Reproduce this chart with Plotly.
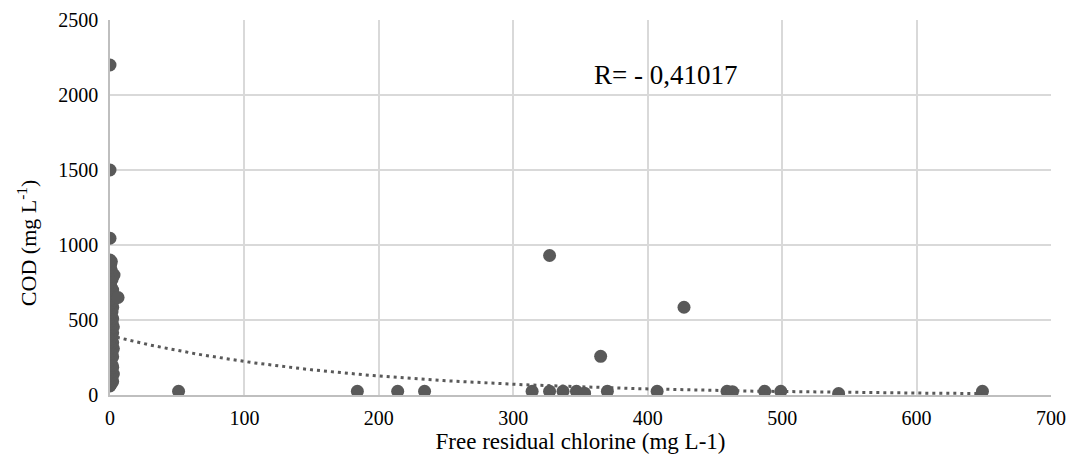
import numpy as np
import plotly.graph_objects as go

# --- data ---
# cluster of samples with (almost) no free residual chlorine
cluster_x = [0, 1, 2, 0.5, 1.5, 0, 2.5, 1, 0, 2, 1.5, 0.5, 0, 1, 2, 0, 1.5, 0.5, 2.5, 1,
             0, 2, 1, 0.5, 1.5, 0, 2, 1, 0.5, 2.5, 0, 1.5, 1, 2, 0, 0.5, 1.5, 1, 2, 0,
             1, 2.5, 0.5, 1.5, 0, 2, 1, 0.5, 3, 0, 1.5, 2, 1, 0, 0.5, 1, 0]
cluster_y = [60, 75, 90, 100, 115, 130, 140, 155, 170, 185, 200, 210, 225, 240, 255, 270, 280, 295, 310, 320,
             335, 350, 360, 375, 390, 400, 415, 430, 440, 455, 470, 480, 495, 510, 520, 540, 555, 570, 585, 600,
             615, 630, 640, 665, 680, 700, 715, 730, 800, 750, 770, 790, 830, 850, 870, 890, 900]

other_x = [0, 0, 0, 6, 51, 184, 214, 234, 314, 327, 337, 347, 353, 370, 407, 459, 463,
           487, 499, 542, 649, 327, 365, 427]
other_y = [2200, 1500, 1045, 650, 25, 25, 25, 25, 25, 25, 25, 25, 12, 25, 25, 25, 22,
           25, 25, 10, 25, 930, 258, 585]

chlorine = cluster_x + other_x
cod = cluster_y + other_y

# exponential trendline (Excel) parameters
TREND_A = 395
TREND_B = 0.0057

x_ticks = [0, 100, 200, 300, 400, 500, 600, 700]
y_ticks = [0, 500, 1000, 1500, 2000, 2500]
r_label = "R= - 0,41017"
x_title = "Free residual chlorine (mg L-1)"
y_title = "COD (mg L<sup>-1</sup>)"

MARK = "#595959"
GRID = "#d9d9d9"
FONT = "'Liberation Serif', 'Times New Roman', serif"

trend_x = np.linspace(0, max(chlorine), 200)
trend_y = TREND_A * np.exp(-TREND_B * trend_x)

fig = go.Figure()
fig.add_trace(go.Scatter(
    x=chlorine, y=cod, mode="markers",
    marker=dict(color=MARK, size=13, line=dict(width=0)),
    showlegend=False, hoverinfo="x+y"))
fig.add_trace(go.Scatter(
    x=trend_x, y=trend_y, mode="lines",
    line=dict(color=MARK, width=3, dash="3px,4px"),
    showlegend=False, hoverinfo="skip"))

fig.add_annotation(
    x=0.59, y=0.853, xref="paper", yref="paper",
    xanchor="center", yanchor="middle",
    text=r_label, showarrow=False,
    font=dict(family=FONT, size=27, color="#000000"))

fig.add_annotation(
    x=-0.0882, y=0.405, xref="paper", yref="paper",
    xanchor="center", yanchor="middle", textangle=-90,
    text=y_title, showarrow=False,
    font=dict(family=FONT, size=22, color="#000000"))

fig.update_layout(
    width=1067, height=456,
    margin=dict(l=102, r=24, t=12, b=69),
    paper_bgcolor="white", plot_bgcolor="white",
    font=dict(family=FONT, size=20, color="#000000"),
    xaxis=dict(
        range=[0, 700], tickvals=x_ticks, ticktext=[str(v) for v in x_ticks],
        showgrid=True, gridcolor=GRID, gridwidth=1.5,
        zeroline=False, showline=True, linecolor="#bfbfbf", linewidth=1.5,
        ticks="", ticklabelstandoff=4, automargin=False,
        tickfont=dict(family=FONT, size=20),
        title=dict(text=x_title, font=dict(family=FONT, size=23), standoff=2),
    ),
    yaxis=dict(
        range=[0, 2500], tickvals=y_ticks, ticktext=[str(v) for v in y_ticks],
        showgrid=True, gridcolor=GRID, gridwidth=1.5,
        zeroline=False, showline=True, linecolor="#bfbfbf", linewidth=1.5,
        ticks="", ticklabelstandoff=6, automargin=False,
        tickfont=dict(family=FONT, size=20),
    ),
)

fig.write_html("out.html")
